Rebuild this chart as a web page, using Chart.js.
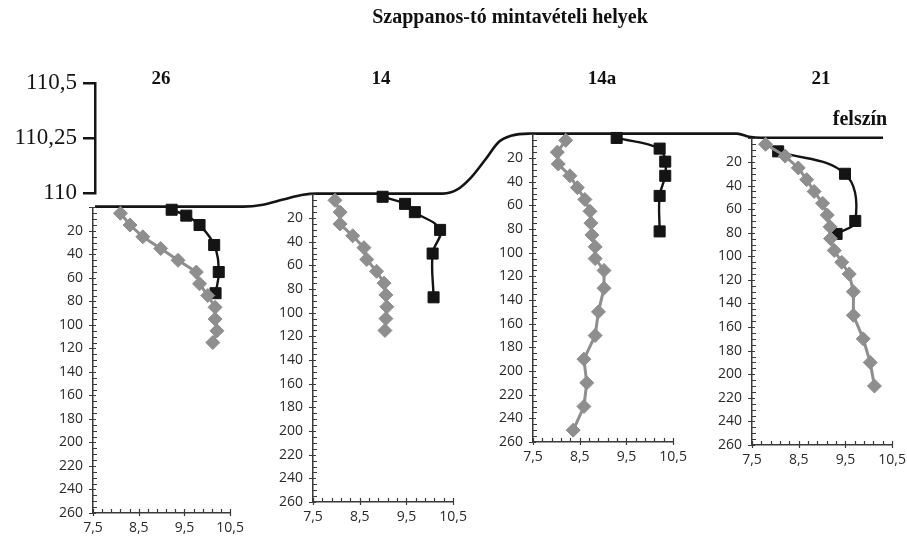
<!DOCTYPE html>
<html>
<head>
<meta charset="utf-8">
<script src="https://cdn.jsdelivr.net/npm/chart.js@4.4.1/dist/chart.umd.min.js"></script>
<style>
  html, body { margin: 0; padding: 0; background: #fff; overflow: hidden; }
  #wrap { position: relative; width: 907px; height: 543px; overflow: hidden; }
  canvas { position: absolute; }
  .lbl { position: absolute; font-family: "Liberation Serif", serif; font-weight: bold; color: #111; white-space: nowrap; transform: translateX(-50%); }
</style>
</head>
<body>
<div id="wrap">
  <canvas id="surface" width="907" height="543" style="left:0;top:0"></canvas>
  <canvas id="p26" width="220" height="360"></canvas>
  <canvas id="p14" width="220" height="360"></canvas>
  <canvas id="p14a" width="220" height="360"></canvas>
  <canvas id="p21" width="220" height="360"></canvas>
  <div class="lbl" style="left:510px;top:5px;font-size:20px">Szappanos-tó mintavételi helyek</div>
  <div class="lbl" style="left:161px;top:67px;font-size:19px">26</div>
  <div class="lbl" style="left:381px;top:67px;font-size:19px">14</div>
  <div class="lbl" style="left:602px;top:67px;font-size:19px">14a</div>
  <div class="lbl" style="left:821px;top:67px;font-size:19px">21</div>
  <div class="lbl" style="left:860px;top:107px;font-size:20px">felszín</div>
</div>
<script>
// tick labels
const elevLabels = [110, 110.25, 110.5];
const depthLabels = [20, 40, 60, 80, 100, 120, 140, 160, 180, 200, 220, 240, 260];
const phLabels = [7.5, 8.5, 9.5, 10.5];

// surface profile along the transect (distance, elevation m)
const surfaceDist = [0, 148, 168, 188, 208, 222, 348, 362, 376, 390, 404, 416, 434, 642, 654, 666, 788];
const surfaceElev = [109.938, 109.938, 109.947, 109.97, 109.992, 109.997, 109.997, 110.015, 110.07, 110.15, 110.233, 110.26, 110.27, 110.27, 110.256, 110.251, 110.251];

// site 26
const s26GrayX = [8.10, 8.31, 8.59, 8.98, 9.36, 9.76, 9.83, 10.01, 10.17, 10.17, 10.21, 10.12];
const s26GrayDepth = [5, 15, 25, 35, 45, 55, 65, 75, 85, 95, 105, 115];
const s26BlackX = [9.22, 9.54, 9.83, 10.15, 10.25, 10.18];
const s26BlackDepth = [2, 7, 15, 32, 55, 73];

// site 14
const s14GrayX = [7.97, 8.08, 8.08, 8.35, 8.59, 8.65, 8.86, 9.02, 9.06, 9.08, 9.06, 9.04];
const s14GrayDepth = [5, 15, 25, 35, 45, 55, 65, 75, 85, 95, 105, 115];
const s14BlackX = [8.99, 9.47, 9.68, 10.22, 10.06, 10.08];
const s14BlackDepth = [2, 8, 15, 30, 50, 87];

// site 14a
const s14aGrayX = [8.20, 8.02, 8.04, 8.29, 8.45, 8.61, 8.72, 8.74, 8.76, 8.83, 8.83, 9.02, 9.02, 8.90, 8.83, 8.59, 8.65, 8.59, 8.36];
const s14aGrayDepth = [5, 15, 25, 35, 45, 55, 65, 75, 85, 95, 105, 115, 130, 150, 170, 190, 210, 230, 250];
const s14aBlackX = [9.29, 10.21, 10.33, 10.33, 10.21, 10.21];
const s14aBlackDepth = [3, 12, 23, 35, 52, 82];

// site 21
const s21GrayX = [7.79, 8.21, 8.49, 8.67, 8.83, 9.01, 9.11, 9.17, 9.18, 9.26, 9.42, 9.58, 9.67, 9.67, 9.88, 10.03, 10.12];
const s21GrayDepth = [5, 15, 25, 35, 45, 55, 65, 75, 85, 95, 105, 115, 130, 150, 170, 190, 210];
const s21BlackX = [8.06, 9.49, 9.71, 9.31];
const s21BlackDepth = [11, 30, 70, 81];

const BLACK = "#141414";
const GRAY = "#8e8e8e";
const AXIS = "#3a3a3a";

const comma = (v) => String(v).replace(".", ",");
const pts = (xs, ys) => xs.map((x, i) => ({ x: x, y: ys[i] }));

// surface line + elevation axis
new Chart(document.getElementById("surface"), {
  type: "scatter",
  data: {
    datasets: [
      {
        data: pts(surfaceDist, surfaceElev),
        showLine: true,
        borderColor: BLACK,
        borderWidth: 2.6,
        pointRadius: 0,
        cubicInterpolationMode: "monotone",
        clip: false,
      },
    ],
  },
  options: {
    responsive: false,
    animation: false,
    layout: { autoPadding: false, padding: { top: 83, right: 24, bottom: 350, left: 0 } },
    plugins: { legend: { display: false }, tooltip: { enabled: false } },
    scales: {
      x: { type: "linear", display: false, min: 0, max: 788 },
      y: {
        min: 110,
        max: 110.5,
        afterBuildTicks: (s) => { s.ticks = elevLabels.map((v) => ({ value: v })); },
        afterFit: (s) => { s.width = 95; },
        ticks: {
          callback: comma,
          color: BLACK,
          padding: 6,
          font: { family: "Liberation Serif", size: 23 },
        },
        grid: { drawOnChartArea: false, tickLength: 12, color: BLACK, lineWidth: 2.5 },
        border: { color: BLACK, width: 2.5 },
      },
    },
  },
});

// minor / major tick marks like the original (inside ticks)
const tickMarks = {
  id: "tickMarks",
  afterDraw(chart) {
    const ctx = chart.ctx;
    const x = chart.scales.x;
    const y = chart.scales.y;
    ctx.save();
    ctx.strokeStyle = AXIS;
    ctx.lineWidth = 1.2;
    ctx.beginPath();
    for (let d = 0; d <= 260; d += 5) {
      const py = Math.round(y.getPixelForValue(d)) + 0.5;
      if (d % 20 === 0) {
        ctx.moveTo(x.left - 4, py);
        ctx.lineTo(x.left + 3, py);
      } else {
        ctx.moveTo(x.left, py);
        ctx.lineTo(x.left + 4, py);
      }
    }
    for (let i = 0; i <= 15; i++) {
      const px = Math.round(x.getPixelForValue(7.5 + i * 0.2)) + 0.5;
      if (i % 5 === 0) {
        ctx.moveTo(px, y.bottom - 4);
        ctx.lineTo(px, y.bottom + 3);
      } else {
        ctx.moveTo(px, y.bottom);
        ctx.lineTo(px, y.bottom - 4);
      }
    }
    ctx.stroke();
    ctx.restore();
  },
};

// box = wanted plot area on the page
const panel = (id, box, grayX, grayDepth, blackX, blackDepth) => {
  const canvas = document.getElementById(id);
  const chart = new Chart(canvas, {
    type: "scatter",
    data: {
      datasets: [
        {
          data: pts(grayX, grayDepth),
          showLine: true,
          borderColor: GRAY,
          borderWidth: 3,
          pointStyle: "rectRot",
          pointRadius: 7,
          pointBackgroundColor: GRAY,
          pointBorderColor: GRAY,
          pointBorderWidth: 1,
          tension: 0,
          clip: false,
        },
        {
          data: pts(blackX, blackDepth),
          showLine: true,
          borderColor: BLACK,
          borderWidth: 2.4,
          pointStyle: "rect",
          pointRadius: 7.8,
          pointBackgroundColor: BLACK,
          pointBorderColor: BLACK,
          pointBorderWidth: 1,
          tension: 0.4,
          clip: false,
        },
      ],
    },
    options: {
      responsive: false,
      maintainAspectRatio: false,
      animation: false,
      layout: { autoPadding: false, padding: { top: 12, right: 15, bottom: 0, left: 0 } },
      plugins: { legend: { display: false }, tooltip: { enabled: false } },
      scales: {
        x: {
          type: "linear",
          min: 7.5,
          max: 10.5,
          afterBuildTicks: (s) => { s.ticks = phLabels.map((v) => ({ value: v })); },
          afterFit: (s) => { s.height = 34; },
          ticks: { callback: comma, color: "#2a2a2a", padding: 7, maxRotation: 0, font: { family: "Open Sans", size: 14 } },
          grid: { display: false, drawTicks: false },
          border: { color: AXIS, width: 1.5 },
        },
        y: {
          min: 0,
          max: 260,
          reverse: true,
          afterBuildTicks: (s) => { s.ticks = depthLabels.map((v) => ({ value: v })); },
          afterFit: (s) => { s.width = 45; },
          ticks: { callback: (v) => String(v), color: "#2a2a2a", padding: 10, font: { family: "Open Sans", size: 14 } },
          grid: { display: false, drawTicks: false },
          border: { color: AXIS, width: 1.5 },
        },
      },
    },
    plugins: [tickMarks],
  });
  let a = chart.chartArea;
  chart.resize(
    Math.round(canvas.width + box.w - (a.right - a.left)),
    Math.round(canvas.height + box.h - (a.bottom - a.top))
  );
  a = chart.chartArea;
  canvas.style.left = Math.round(box.l - a.left) + "px";
  canvas.style.top = Math.round(box.t - a.top) + "px";
};

panel("p26", { l: 93, t: 207, w: 137, h: 306 }, s26GrayX, s26GrayDepth, s26BlackX, s26BlackDepth);
panel("p14", { l: 313, t: 194, w: 140, h: 308 }, s14GrayX, s14GrayDepth, s14BlackX, s14BlackDepth);
panel("p14a", { l: 533, t: 134, w: 140, h: 308 }, s14aGrayX, s14aGrayDepth, s14aBlackX, s14aBlackDepth);
panel("p21", { l: 752, t: 138, w: 140, h: 307 }, s21GrayX, s21GrayDepth, s21BlackX, s21BlackDepth);
</script>
</body>
</html>
